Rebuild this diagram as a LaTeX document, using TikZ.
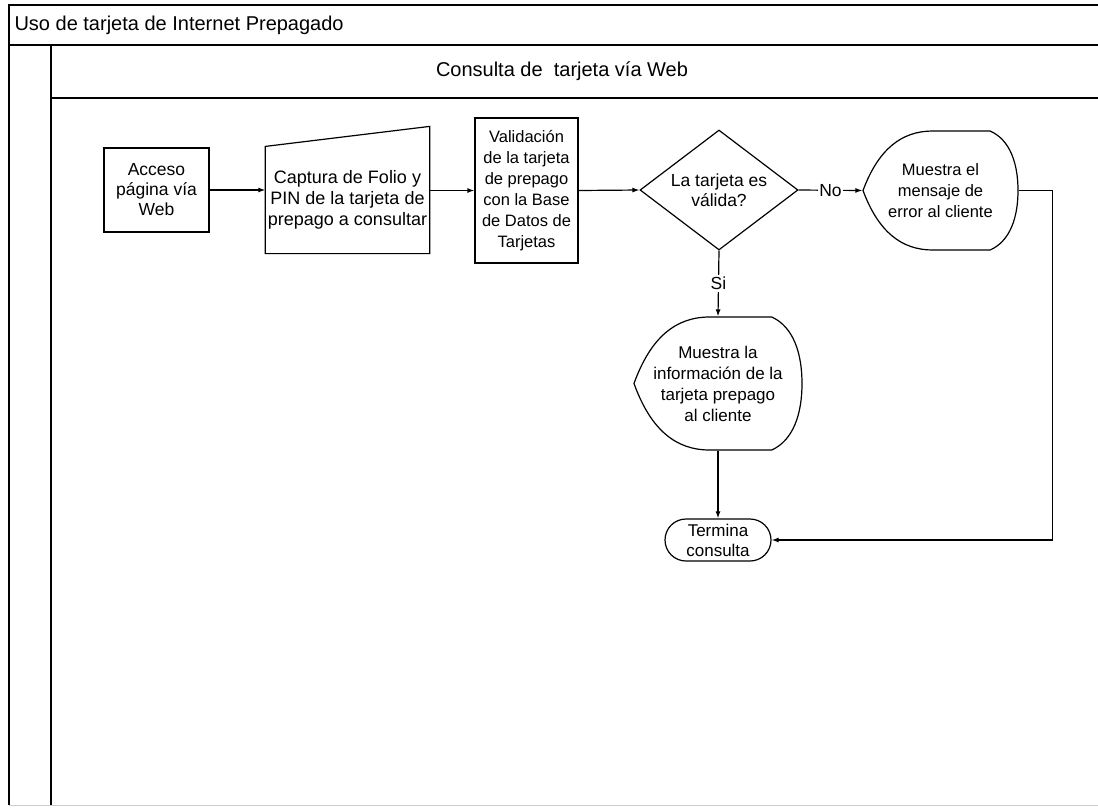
\documentclass[tikz,border=0pt]{standalone}
\usepackage{fontspec}
\setmainfont{Liberation Sans}
\usetikzlibrary{shapes.geometric, shapes.misc, arrows.meta, positioning}
% display outline round a plain node: name, half width, half height
\newcommand{\DisplayOutline}[3]{%
  \draw[line width=1.2pt, shift={(#1.center)}]
    ({-#2},0) .. controls ({-0.8*#2},{-0.7*#3}) and ({-0.5*#2},{-#3}) .. ({-0.1*#2},{-#3})
    -- ({0.64*#2},{-#3}) .. controls ({0.9*#2},{-0.85*#3}) and ({#2},{-0.45*#3}) .. ({#2},0)
    .. controls ({#2},{0.45*#3}) and ({0.9*#2},{0.85*#3}) .. ({0.64*#2},{#3})
    -- ({-0.1*#2},{#3}) .. controls ({-0.5*#2},{#3}) and ({-0.8*#2},{0.7*#3}) .. cycle;}

\begin{document}
\begin{tikzpicture}[
    x=1pt, y=-1pt,
    font=\fontsize{17.5}{20}\selectfont,
    base/.style={line width=1.2pt, align=center, inner sep=2pt},
    proc/.style={base, draw, rectangle},
    dia/.style={base, draw, diamond, aspect=1.3, inner sep=0pt},
    term/.style={base, draw, rounded rectangle},
    plain/.style={base},
    arr/.style={-{Latex[length=7pt,width=5pt]}, line width=1.2pt},
    lane/.style={line width=1.5pt}
]
\useasboundingbox (0,0) rectangle (1098,807);

% Pool and lane
\draw[lane] (9,805) -- (9,5) -- (1098,5);
\draw[lane] (9,45) -- (1098,45);
\draw[lane] (51,45) -- (51,805);
\draw[lane] (51,98) -- (1098,98);
\draw[gray!40, line width=0.8pt] (9,805) -- (1098,805);

\node[anchor=west, font=\fontsize{20}{22}\selectfont] (pool) at (11,25) {Uso de tarjeta de Internet Prepagado};
\node[font=\fontsize{20}{22}\selectfont] (lanetitle) at (562,71) {Consulta de \ tarjeta vía Web};

% Steps
\node[proc, minimum width=105pt, minimum height=84pt] (acceso) at (156.5,190) {Acceso\\página vía\\Web};

\node[plain, minimum width=161pt, minimum height=106pt, font=\fontsize{18}{21}\selectfont] (captura) at (347.5,200) {Captura de Folio y\\PIN de la tarjeta de\\prepago a consultar};
\draw[line width=1.2pt] (captura.south west) -- (captura.south east) -- ([yshift=20pt]captura.north east) -- (captura.north west) -- cycle;

\node[proc, minimum width=103pt, minimum height=145pt, font=\fontsize{16.5}{21}\selectfont] (valida) at (526.5,190.5) {Validación\\de la tarjeta\\de prepago\\con la Base\\de Datos de\\Tarjetas};

\node[dia, minimum width=158pt, minimum height=120pt] (esvalida) at (719,190) {La tarjeta es\\válida?};

\node[plain, minimum width=155pt, minimum height=119pt, font=\fontsize{16.5}{21}\selectfont] (error) at (940.5,190.5) {Muestra el\\mensaje de\\error al cliente};
\DisplayOutline{error}{77.5}{59.5}

\node[plain, minimum width=168pt, minimum height=133pt, font=\fontsize{17}{21}\selectfont] (info) at (718,383.5) {Muestra la\\información de la\\tarjeta prepago\\al cliente};
\DisplayOutline{info}{84}{66.5}

\node[term, minimum width=108pt, minimum height=42pt, inner sep=1pt, font=\fontsize{17}{20}\selectfont] (fin) at (718,540) {Termina\\consulta};

% Connections
\draw[arr] (acceso.east) -- (acceso.east -| captura.west);
\draw[arr] (captura.east |- valida.west) -- (valida.west);
\draw[arr] (valida.east) -- (esvalida.west);
\draw[arr] (esvalida.east) -- node[fill=white, inner sep=1pt] (no) {No} (error.west);
\draw[arr] (esvalida.south) -- node[fill=white, inner sep=2pt] (si) {Si} (info.north);
\draw[arr] (info.south) -- (fin.north);
\draw[arr] (error.east) -- ++(34,0) |- (fin.east);

\end{tikzpicture}
\end{document}
